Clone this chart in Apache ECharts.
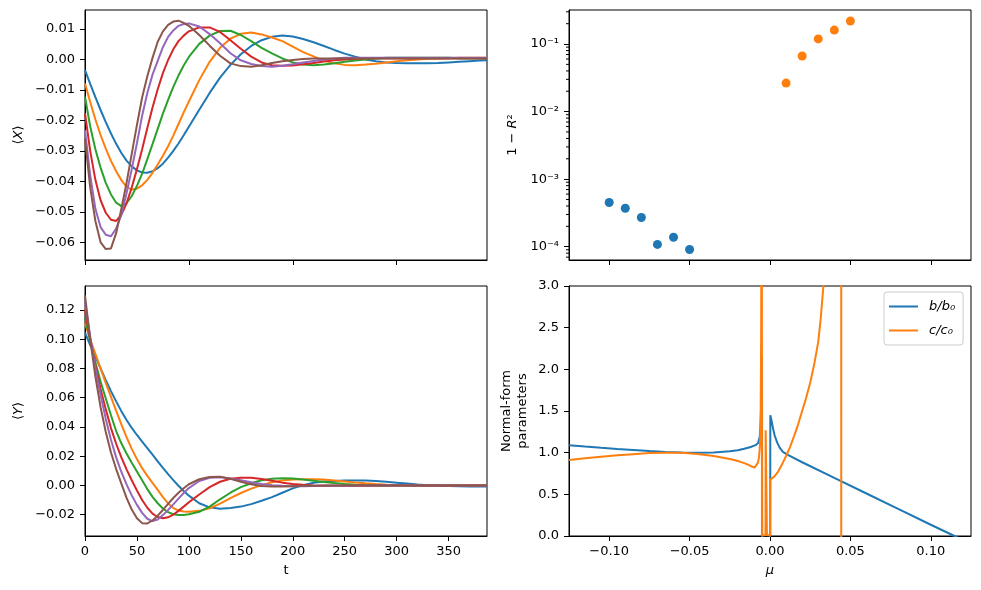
<!DOCTYPE html>
<html>
<head>
<meta charset="utf-8">
<script src="https://cdn.jsdelivr.net/npm/echarts@6/dist/echarts.min.js"></script>
<style>
  html, body { margin: 0; padding: 0; background: #fff; }
  #chart { width: 981px; height: 590px; }
</style>
</head>
<body>
<div id="chart"></div>
<script>
// time grid shared by the <X> and <Y> curves
const tGrid = [0, 5, 10, 15, 20, 25, 30, 35, 40, 45, 50, 55, 60, 65, 70, 75, 80, 85, 90, 95, 100,
  110, 120, 130, 140, 150, 160, 170, 180, 190, 200, 210, 220, 230, 240, 250, 260, 270, 280, 290, 300,
  310, 320, 330, 340, 350, 360, 370, 380, 387]

// <X>(t), one array per curve
const x1 = [-0.0035, -0.0080, -0.0124, -0.0166, -0.0206, -0.0243, -0.0277, -0.0307, -0.0332, -0.0351, -0.0364, -0.0371, -0.0372, -0.0367, -0.0357, -0.0342, -0.0322, -0.0300, -0.0276, -0.0249, -0.0221,
  -0.0165, -0.0110, -0.0060, -0.0018, 0.0017, 0.0044, 0.0063, 0.0074, 0.0078, 0.0075, 0.0067, 0.0056, 0.0044, 0.0031, 0.0019, 0.0009, 0.0000, -0.0006, -0.0010, -0.0012,
  -0.0013, -0.0013, -0.0013, -0.0012, -0.0010, -0.0008, -0.0006, -0.0004, -0.0003]
const x2 = [-0.0079, -0.0140, -0.0197, -0.0248, -0.0293, -0.0333, -0.0367, -0.0396, -0.0418, -0.0427, -0.0424, -0.0413, -0.0395, -0.0372, -0.0345, -0.0316, -0.0285, -0.0250, -0.0212, -0.0174, -0.0138,
  -0.0068, -0.0008, 0.0038, 0.0068, 0.0084, 0.0088, 0.0082, 0.0072, 0.0060, 0.0042, 0.0024, 0.0010, -0.0004, -0.0013, -0.0018, -0.0019, -0.0017, -0.0014, -0.0010, -0.0006,
  -0.0003, 0.0000, 0.0002, 0.0003, 0.0004, 0.0005, 0.0005, 0.0005, 0.0005]
const x3 = [-0.0122, -0.0220, -0.0295, -0.0355, -0.0405, -0.0443, -0.0470, -0.0481, -0.0472, -0.0448, -0.0415, -0.0375, -0.0327, -0.0278, -0.0228, -0.0178, -0.0133, -0.0090, -0.0053, -0.0020, 0.0008,
  0.0051, 0.0078, 0.0093, 0.0094, 0.0080, 0.0060, 0.0038, 0.0020, 0.0003, -0.0010, -0.0017, -0.0019, -0.0017, -0.0013, -0.0008, -0.0004, 0.0000, 0.0003, 0.0005, 0.0005,
  0.0005, 0.0005, 0.0005, 0.0005, 0.0005, 0.0004, 0.0004, 0.0004, 0.0004]
const x4 = [-0.0177, -0.0300, -0.0395, -0.0462, -0.0503, -0.0526, -0.0530, -0.0510, -0.0472, -0.0420, -0.0360, -0.0295, -0.0225, -0.0158, -0.0098, -0.0045, -0.0002, 0.0033, 0.0060, 0.0078, 0.0092,
  0.0105, 0.0105, 0.0090, 0.0063, 0.0035, 0.0009, -0.0010, -0.0019, -0.0021, -0.0020, -0.0016, -0.0012, -0.0007, -0.0003, 0.0000, 0.0002, 0.0004, 0.0004, 0.0004, 0.0004,
  0.0004, 0.0004, 0.0004, 0.0004, 0.0004, 0.0004, 0.0004, 0.0004, 0.0004]
const x5 = [-0.0232, -0.0380, -0.0490, -0.0550, -0.0575, -0.0580, -0.0555, -0.0510, -0.0439, -0.0360, -0.0275, -0.0185, -0.0110, -0.0050, -0.0005, 0.0040, 0.0074, 0.0095, 0.0110, 0.0116, 0.0118,
  0.0108, 0.0083, 0.0053, 0.0020, -0.0003, -0.0015, -0.0022, -0.0024, -0.0021, -0.0016, -0.0010, -0.0005, 0.0000, 0.0003, 0.0005, 0.0005, 0.0005, 0.0005, 0.0005, 0.0005,
  0.0005, 0.0005, 0.0005, 0.0005, 0.0005, 0.0005, 0.0005, 0.0005, 0.0005]
const x6 = [-0.0260, -0.0420, -0.0530, -0.0600, -0.0622, -0.0620, -0.0570, -0.0490, -0.0405, -0.0310, -0.0215, -0.0125, -0.0055, 0.0005, 0.0058, 0.0092, 0.0113, 0.0124, 0.0127, 0.0120, 0.0110,
  0.0080, 0.0045, 0.0012, -0.0013, -0.0022, -0.0024, -0.0019, -0.0012, -0.0006, -0.0002, 0.0001, 0.0003, 0.0003, 0.0003, 0.0003, 0.0003, 0.0003, 0.0003, 0.0003, 0.0003,
  0.0003, 0.0003, 0.0003, 0.0003, 0.0003, 0.0003, 0.0003, 0.0003, 0.0003]

// <Y>(t), one array per curve
const y1 = [0.1045, 0.0960, 0.0880, 0.0800, 0.0720, 0.0645, 0.0575, 0.0508, 0.0448, 0.0393, 0.0345, 0.0300, 0.0255, 0.0210, 0.0165, 0.0120, 0.0077, 0.0036, -0.0002, -0.0038, -0.0070,
  -0.0122, -0.0150, -0.0159, -0.0155, -0.0145, -0.0128, -0.0105, -0.0080, -0.0050, -0.0020, 0.0002, 0.0018, 0.0027, 0.0031, 0.0033, 0.0034, 0.0033, 0.0030, 0.0025, 0.0019,
  0.0013, 0.0007, 0.0002, -0.0002, -0.0004, -0.0006, -0.0007, -0.0008, -0.0008]
const y2 = [0.1110, 0.1000, 0.0900, 0.0800, 0.0700, 0.0605, 0.0510, 0.0418, 0.0330, 0.0250, 0.0180, 0.0118, 0.0065, 0.0018, -0.0030, -0.0080, -0.0123, -0.0155, -0.0171, -0.0178, -0.0180,
  -0.0174, -0.0157, -0.0125, -0.0087, -0.0052, -0.0022, 0.0002, 0.0022, 0.0034, 0.0041, 0.0043, 0.0043, 0.0040, 0.0034, 0.0027, 0.0020, 0.0014, 0.0009, 0.0005, 0.0002,
  0.0001, 0.0000, 0.0000, 0.0000, 0.0000, 0.0000, 0.0000, 0.0000, 0.0000]
const y3 = [0.1150, 0.0990, 0.0840, 0.0710, 0.0595, 0.0480, 0.0372, 0.0288, 0.0218, 0.0155, 0.0095, 0.0035, -0.0025, -0.0078, -0.0122, -0.0158, -0.0183, -0.0197, -0.0203, -0.0202, -0.0197,
  -0.0180, -0.0145, -0.0095, -0.0050, -0.0012, 0.0015, 0.0035, 0.0045, 0.0049, 0.0047, 0.0040, 0.0032, 0.0024, 0.0016, 0.0010, 0.0005, 0.0002, 0.0000, 0.0000, 0.0000,
  0.0000, 0.0000, 0.0000, 0.0000, 0.0000, 0.0000, 0.0000, 0.0000, 0.0000]
const y4 = [0.1200, 0.1000, 0.0820, 0.0660, 0.0520, 0.0392, 0.0285, 0.0192, 0.0110, 0.0035, -0.0035, -0.0100, -0.0153, -0.0193, -0.0216, -0.0225, -0.0218, -0.0200, -0.0174, -0.0145, -0.0115,
  -0.0062, -0.0012, 0.0025, 0.0045, 0.0053, 0.0052, 0.0044, 0.0032, 0.0019, 0.0010, 0.0004, 0.0000, -0.0002, -0.0003, -0.0003, -0.0002, -0.0002, -0.0001, 0.0000, 0.0000,
  0.0000, 0.0000, 0.0000, 0.0000, 0.0000, 0.0000, 0.0000, 0.0000, 0.0000]
const y5 = [0.1250, 0.1020, 0.0800, 0.0620, 0.0455, 0.0312, 0.0192, 0.0092, 0.0007, -0.0068, -0.0133, -0.0188, -0.0228, -0.0244, -0.0233, -0.0203, -0.0167, -0.0130, -0.0090, -0.0052, -0.0018,
  0.0030, 0.0052, 0.0056, 0.0048, 0.0035, 0.0021, 0.0010, 0.0002, -0.0003, -0.0005, -0.0005, -0.0004, -0.0003, -0.0002, -0.0002, -0.0001, 0.0000, 0.0000, 0.0000, 0.0000,
  0.0000, 0.0000, 0.0000, 0.0000, 0.0000, 0.0000, 0.0000, 0.0000, 0.0000]
const y6 = [0.1300, 0.1000, 0.0745, 0.0535, 0.0365, 0.0225, 0.0112, 0.0012, -0.0085, -0.0165, -0.0225, -0.0258, -0.0260, -0.0240, -0.0207, -0.0168, -0.0126, -0.0086, -0.0050, -0.0020, 0.0008,
  0.0042, 0.0058, 0.0060, 0.0045, 0.0025, 0.0008, -0.0004, -0.0008, -0.0007, -0.0005, -0.0003, -0.0002, -0.0001, 0.0000, 0.0000, 0.0000, 0.0000, 0.0000, 0.0000, 0.0000,
  0.0000, 0.0000, 0.0000, 0.0000, 0.0000, 0.0000, 0.0000, 0.0000, 0.0000]

// 1 - R^2 against mu
const muNeg = [-0.10, -0.09, -0.08, -0.07, -0.06, -0.05]
const r2Neg = [4.5e-4, 3.7e-4, 2.7e-4, 1.08e-4, 1.38e-4, 9.1e-5]
const muPos = [0.01, 0.02, 0.03, 0.04, 0.05]
const r2Pos = [0.0264, 0.0664, 0.119, 0.161, 0.219]

// normal-form parameters against mu (values outside 0..3 are cut off by the axes)
const muB = [-0.125, -0.115, -0.105, -0.095, -0.085, -0.075, -0.065, -0.055, -0.045, -0.035, -0.025, -0.020, -0.016, -0.012,
  -0.009, -0.0074, -0.0064, -0.0058, -0.0053, -0.0050, -0.0048, 0.0001, 0.0002, 0.0010, 0.0020, 0.0030, 0.0045, 0.0060, 0.0080,
  0.0100, 0.0120, 0.020, 0.040, 0.060, 0.080, 0.100, 0.1147, 0.125]
const bRatio = [1.090, 1.073, 1.058, 1.045, 1.033, 1.020, 1.009, 1.002, 0.999, 1.003, 1.018, 1.030, 1.048, 1.068,
  1.090, 1.115, 1.190, 1.350, 1.700, 2.150, -0.5, -0.5, 1.450, 1.380, 1.280, 1.200, 1.120, 1.060, 1.010,
  0.985, 0.965, 0.885, 0.697, 0.510, 0.322, 0.135, 0.0, -0.097]
const muC = [-0.125, -0.115, -0.105, -0.095, -0.085, -0.075, -0.065, -0.055, -0.045, -0.035, -0.025, -0.020, -0.016, -0.013,
  -0.011, -0.0095, -0.0085, -0.0075, -0.0068, -0.0062, -0.0058, -0.0055, -0.0053, -0.0051, -0.0050, -0.0028, -0.0027, -0.0019,
  0.0001, 0.0002, 0.0025, 0.005, 0.0075, 0.010, 0.0125, 0.015, 0.0175, 0.020, 0.0225, 0.025, 0.0275, 0.030, 0.0315, 0.033, 0.035,
  0.038, 0.041, 0.0442, 0.0444, 0.046, 0.050, 0.070, 0.100, 0.125]
const cRatio = [0.912, 0.932, 0.952, 0.968, 0.982, 0.995, 1.000, 0.998, 0.985, 0.960, 0.925, 0.900, 0.875, 0.850,
  0.830, 0.822, 0.830, 0.880, 0.950, 1.100, 1.500, 2.400, 4.0, 8.0, 0.01, 0.01, 1.27, 0.01,
  0.01, 0.68, 0.71, 0.77, 0.86, 0.96, 1.07, 1.20, 1.34, 1.50, 1.66, 1.84, 2.06, 2.33, 2.60, 2.95, 3.5,
  4.6, 7.0, 40.0, -40.0, -8.0, -4.0, -2.0, -1.3, -1.0]

// tick values
const tTicksTop = [0, 100, 200, 300]
const tTicks = [0, 50, 100, 150, 200, 250, 300, 350]
const xTicks = [-0.06, -0.05, -0.04, -0.03, -0.02, -0.01, 0.0, 0.01]
const yTicks = [-0.02, 0.0, 0.02, 0.04, 0.06, 0.08, 0.10, 0.12]
const muTicks = [-0.10, -0.05, 0.0, 0.05, 0.10]
const logTicks = [1e-4, 1e-3, 1e-2, 1e-1]
const logMinor = [7e-5, 8e-5, 9e-5, 2e-4, 3e-4, 4e-4, 5e-4, 6e-4, 7e-4, 8e-4, 9e-4, 2e-3, 3e-3, 4e-3, 5e-3, 6e-3, 7e-3, 8e-3, 9e-3,
  2e-2, 3e-2, 4e-2, 5e-2, 6e-2, 7e-2, 8e-2, 9e-2, 2e-1, 3e-1]
const nfTicks = [0, 0.5, 1.0, 1.5, 2.0, 2.5, 3.0]

const colors = ['#1f77b4', '#ff7f0e', '#2ca02c', '#d62728', '#9467bd', '#8c564b']
const FONT = 'DejaVu Sans'
const MU_MIN = -0.125
const MU_MAX = 0.125

const signed = d => v => (v < 0 ? '\u2212' : '') + Math.abs(v).toFixed(d)
const supMap = { '-': '\u207b', 0: '\u2070', 1: '\u00b9', 2: '\u00b2', 3: '\u00b3', 4: '\u2074', 5: '\u2075', 6: '\u2076', 7: '\u2077', 8: '\u2078', 9: '\u2079' }
const pow10 = v => '10' + String(Math.round(Math.log10(v))).split('').map(c => supMap[c]).join('')

const pairs = (xs, ys) => xs.map((x, i) => [x, ys[i]])

const label = { color: '#000', fontFamily: FONT, fontSize: 13 }

const makeX = (gridIndex, min, max, ticks, showLabels, fmt) => ({
  type: 'value',
  gridIndex,
  min,
  max,
  axisLine: { show: true, onZero: false, lineStyle: { color: '#000', width: 1 } },
  axisTick: { show: true, length: 5, lineStyle: { color: '#000', width: 1 }, customValues: ticks },
  axisLabel: { show: showLabels, ...label, margin: 9, formatter: fmt, customValues: ticks },
  splitLine: { show: false },
})

const makeY = (gridIndex, min, max, ticks, fmt, type) => ({
  type: type || 'value',
  gridIndex,
  min,
  max,
  position: 'left',
  axisLine: { show: true, onZero: false, lineStyle: { color: '#000', width: 1 } },
  axisTick: { show: true, length: 5, lineStyle: { color: '#000', width: 1 }, customValues: ticks },
  axisLabel: { ...label, margin: 10, formatter: fmt, customValues: ticks },
  splitLine: { show: false },
})

const nameStyle = { color: '#000', fontFamily: FONT, fontSize: 13, rich: { i: { fontStyle: 'italic', fontFamily: FONT, fontSize: 13, color: '#000' } } }

const xAxes = [
  makeX(0, 0, 387, tTicksTop, false),
  { ...makeX(1, 0, 387, tTicks, true, v => String(v)), name: 't', nameLocation: 'middle', nameGap: 28, nameTextStyle: nameStyle },
  makeX(2, MU_MIN, MU_MAX, muTicks, false),
  { ...makeX(3, MU_MIN, MU_MAX, muTicks, true, signed(2)), name: '{i|\u03bc}', nameLocation: 'middle', nameGap: 28, nameTextStyle: nameStyle },
]

const yAxes = [
  { ...makeY(0, -0.0658, 0.0162, xTicks, signed(2)), name: '\u27e8{i|X}\u27e9', nameLocation: 'middle', nameRotate: 90, nameGap: 60, nameTextStyle: nameStyle },
  { ...makeY(1, -0.0346, 0.1364, yTicks, signed(2)), name: '\u27e8{i|Y}\u27e9', nameLocation: 'middle', nameRotate: 90, nameGap: 60, nameTextStyle: nameStyle },
  { ...makeY(2, 6.35e-5, 0.319, logTicks, pow10, 'log'), logBase: 10, name: '1 \u2212 {i|R}\u00b2', nameLocation: 'middle', nameRotate: 90, nameGap: 50, nameTextStyle: nameStyle },
  { ...makeY(3, 0, 3, nfTicks, signed(1)), name: 'Normal-form\nparameters', nameLocation: 'middle', nameRotate: 90, nameGap: 38, nameTextStyle: { ...nameStyle, lineHeight: 16 } },
]

const curve = (xi, data, color, name) => ({
  type: 'line',
  name,
  xAxisIndex: xi,
  yAxisIndex: xi,
  data,
  symbol: 'none',
  lineStyle: { color, width: 2 },
  itemStyle: { color },
  z: 3,
})

const xs = [x1, x2, x3, x4, x5, x6]
const ys = [y1, y2, y3, y4, y5, y6]

const series = []
xs.forEach((arr, i) => series.push(curve(0, pairs(tGrid, arr), colors[i])))
ys.forEach((arr, i) => series.push(curve(1, pairs(tGrid, arr), colors[i])))
series.push({ type: 'scatter', xAxisIndex: 2, yAxisIndex: 2, data: pairs(muNeg, r2Neg), symbolSize: 9, itemStyle: { color: colors[0], opacity: 1 } })
series.push({ type: 'scatter', xAxisIndex: 2, yAxisIndex: 2, data: pairs(muPos, r2Pos), symbolSize: 9, itemStyle: { color: colors[1], opacity: 1 } })
// minor ticks of the log axis, placed through the axis scale
series.push({
  type: 'custom',
  xAxisIndex: 2,
  yAxisIndex: 2,
  silent: true,
  clip: false,
  data: logMinor.map(v => [MU_MIN, v]),
  renderItem: (params, api) => {
    const p = api.coord([api.value(0), api.value(1)])
    return {
      type: 'line',
      shape: { x1: p[0] - 3, y1: p[1], x2: p[0], y2: p[1] },
      style: { stroke: '#000', lineWidth: 1 },
    }
  },
})
series.push(curve(3, pairs(muB, bRatio), colors[0], 'b/b\u2080'))
series.push(curve(3, pairs(muC, cRatio), colors[1], 'c/c\u2080'))

const gridBox = (left, top) => ({
  left, top, width: 402, height: 250,
  show: true, borderColor: '#000', borderWidth: 1, backgroundColor: '#fff',
  outerBoundsMode: 'none',
})

const chart = echarts.init(document.getElementById('chart'), null, { renderer: 'canvas' })
chart.setOption({
  animation: false,
  backgroundColor: '#fff',
  grid: [gridBox(85, 10), gridBox(85, 286), gridBox(569, 10), gridBox(569, 286)],
  xAxis: xAxes,
  yAxis: yAxes,
  legend: {
    data: ['b/b\u2080', 'c/c\u2080'],
    orient: 'vertical',
    left: 884,
    top: 292,
    padding: [7, 8, 7, 5],
    icon: 'rect',
    itemWidth: 29,
    itemHeight: 2,
    itemGap: 9,
    backgroundColor: 'rgba(255,255,255,0.8)',
    borderColor: '#cccccc',
    borderWidth: 1,
    borderRadius: 3,
    textStyle: { color: '#000', fontFamily: FONT, fontSize: 13, fontStyle: 'italic', lineHeight: 15, padding: [0, 0, 0, 6] },
  },
  series,
})
</script>
</body>
</html>
